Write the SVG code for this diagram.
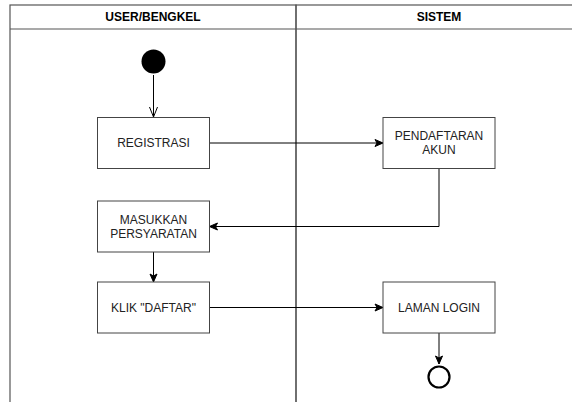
<svg xmlns="http://www.w3.org/2000/svg" width="572" height="402" viewBox="0 0 572 402">
<defs>
<style>
.lane{fill:none;stroke:#555;stroke-width:1.2}
.box{fill:#fff;stroke:#444;stroke-width:1}
.lbl{font-family:"Liberation Sans",Arial,sans-serif;font-size:12px;fill:#222;text-anchor:middle;dominant-baseline:central}
.hdr{font-family:"Liberation Sans",Arial,sans-serif;font-size:12px;font-weight:bold;fill:#000;text-anchor:middle;dominant-baseline:central}
.edge{fill:none;stroke:#000;stroke-width:1}
</style>
<marker id="arr" markerWidth="10" markerHeight="10" refX="9" refY="5" orient="auto" markerUnits="userSpaceOnUse">
<path d="M1,1.5 L9,5 L1,8.5 L3,5 Z" fill="#000" stroke="#000" stroke-width="1"/>
</marker>
<marker id="open" markerWidth="12" markerHeight="12" refX="6" refY="11" orient="0" markerUnits="userSpaceOnUse">
<path d="M2,1 L6,11 L10,1" fill="none" stroke="#000" stroke-width="1"/>
</marker>
</defs>
<g id="pool">
<rect class="lane" x="10" y="5" width="286" height="420"/>
<rect class="lane" x="296" y="5" width="286" height="420"/>
<line class="lane" x1="10" y1="29" x2="582" y2="29"/>
<text class="hdr" x="153" y="17.3">USER/BENGKEL</text>
<text class="hdr" x="439" y="17.3">SISTEM</text>
</g>
<g id="connectors">
<line class="edge" x1="153.5" y1="75" x2="153.5" y2="117" marker-end="url(#open)"/>
<line class="edge" x1="209.5" y1="143" x2="383" y2="143" marker-end="url(#arr)"/>
<path class="edge" d="M439,168 V226.5 H209.5" marker-end="url(#arr)"/>
<line class="edge" x1="153.5" y1="252" x2="153.5" y2="282" marker-end="url(#arr)"/>
<line class="edge" x1="209.5" y1="307.5" x2="383" y2="307.5" marker-end="url(#arr)"/>
<line class="edge" x1="439" y1="333" x2="439" y2="364" marker-end="url(#arr)"/>
</g>
<g id="start"><circle cx="153.5" cy="61.5" r="12" fill="#000"/></g>
<g id="registrasi">
<rect class="box" x="97.5" y="117.5" width="112" height="51"/>
<text class="lbl" x="153.5" y="143">REGISTRASI</text>
</g>
<g id="pendaftaran">
<rect class="box" x="383" y="117.5" width="112" height="51"/>
<text class="lbl" x="439" y="136">PENDAFTARAN</text>
<text class="lbl" x="439" y="150">AKUN</text>
</g>
<g id="masukkan">
<rect class="box" x="97.5" y="201" width="112" height="51"/>
<text class="lbl" x="153.5" y="219.5">MASUKKAN</text>
<text class="lbl" x="153.5" y="233.5">PERSYARATAN</text>
</g>
<g id="klik">
<rect class="box" x="97.5" y="282" width="112" height="51"/>
<text class="lbl" x="153.5" y="307.5">KLIK "DAFTAR"</text>
</g>
<g id="laman">
<rect class="box" x="383" y="282" width="112" height="51"/>
<text class="lbl" x="439" y="307.5">LAMAN LOGIN</text>
</g>
<g id="end"><circle cx="439" cy="377" r="10.5" fill="none" stroke="#000" stroke-width="2.2"/></g>
</svg>
